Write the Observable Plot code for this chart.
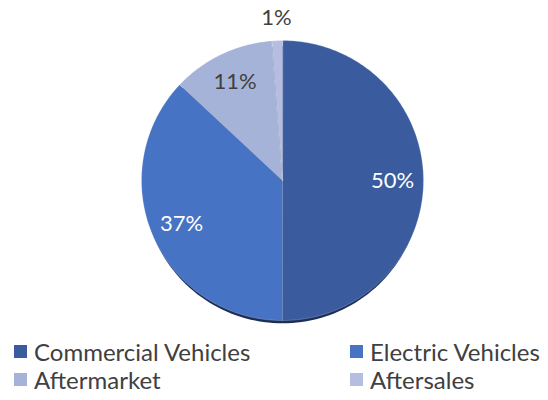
<!DOCTYPE html>
<html>
<head>
<meta charset="utf-8">
<script src="https://cdn.jsdelivr.net/npm/d3@7"></script>
<script src="https://cdn.jsdelivr.net/npm/@observablehq/plot@0.6"></script>
<style>
  html, body { margin: 0; padding: 0; background: #fff; }
  body { width: 548px; height: 400px; overflow: hidden; font-family: Lato, "Open Sans", sans-serif; }
  #legend { display: grid; grid-template-columns: 350px 198px; row-gap: 0px; margin-top: 2px; }
  .item { display: flex; align-items: center; height: 28px; font-size: 24px; color: #404040; white-space: nowrap; }
  .sw { width: 13px; height: 13px; margin-right: 7px; flex: none; }
  #legend .item:nth-child(odd) { padding-left: 14px; }
</style>
</head>
<body>
<div id="chart"></div>
<div id="legend"></div>
<script>
const categories = ["Commercial Vehicles", "Electric Vehicles", "Aftermarket", "Aftersales"];
const values = [50, 37, 11.8, 1.2];
const labels = ["50%", "37%", "11%", "1%"];
const colors = ["#3A5C9E", "#4673C4", "#A6B3D9", "#B5BEE1"];
const labelColors = ["#ffffff", "#ffffff", "#404040", "#404040"];

const pie = d3.pie().sort(null).value(d => d)(values);
const steps = 180;
const slicePts = [];
pie.forEach((a, i) => {
  slicePts.push({cat: categories[i], x: 0, y: 0});
  const n = Math.max(2, Math.ceil(steps * (a.endAngle - a.startAngle) / Math.PI));
  for (let k = 0; k <= n; k++) {
    const t = a.startAngle + (a.endAngle - a.startAngle) * k / n;
    slicePts.push({cat: categories[i], x: Math.sin(t), y: Math.cos(t)});
  }
});
const circlePts = d3.range(0, 361, 2).map(d => {
  const t = d * Math.PI / 180;
  return {x: Math.sin(t) * 0.985, y: Math.cos(t) * 0.99 - 0.03};
});
const labelPts = pie.map((a, i) => {
  const m = (a.startAngle + a.endAngle) / 2;
  const rr = values[i] < 5 ? 1.16 : 0.78;
  return {x: rr * Math.sin(m), y: rr * Math.cos(m), text: labels[i], c: labelColors[i]};
});

const chart = Plot.plot({
  width: 548,
  height: 335,
  margin: 0,
  x: {domain: [-1, 1], range: [141, 423], axis: null},
  y: {domain: [-1, 1], range: [320, 40], axis: null},
  color: {domain: categories, range: colors},
  marks: [
    Plot.line(circlePts, {x: "x", y: "y", fill: "#1C2F5A", stroke: "none", curve: "linear-closed"}),
    Plot.line(slicePts, {x: "x", y: "y", z: "cat", fill: "cat", stroke: "#ffffff", strokeOpacity: 0.35, strokeWidth: 0.6, curve: "linear-closed"}),
    Plot.text(labelPts, {x: "x", y: "y", text: "text", fill: "c", fontSize: 22, fontFamily: "Lato, 'Open Sans', sans-serif"})
  ]
});
document.getElementById("chart").appendChild(chart);

const legend = document.getElementById("legend");
categories.forEach((c, i) => {
  const it = document.createElement("div");
  it.className = "item";
  it.innerHTML = `<span class="sw" style="background:${colors[i]}"></span><span>${c}</span>`;
  legend.appendChild(it);
});
</script>
</body>
</html>
